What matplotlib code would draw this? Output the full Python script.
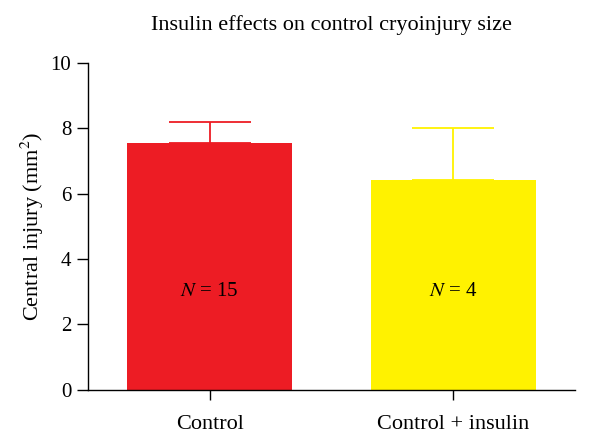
import matplotlib.pyplot as plt
import numpy as np

plt.rcParams['font.family'] = 'Liberation Serif'
plt.rcParams['mathtext.fontset'] = 'stix'

# Data
groups = ['Control', 'Control + insulin']
means = [7.55, 6.42]
errors = [0.65, 1.6]
counts = [15, 4]
colors = ['#ED1C24', '#FFF200']
y_ticks = [0, 2, 4, 6, 8, 10]

fig = plt.figure(figsize=(5.9, 4.41), dpi=100)
ax = fig.add_axes([0.149, 0.116, 0.826, 0.741])

x = np.arange(len(groups))
ax.bar(x, means, width=0.676, color=colors, zorder=2)
for xi, m, e, c in zip(x, means, errors, colors):
    ax.errorbar(xi, m, yerr=[[0], [e]], fmt='none', ecolor=c,
                elinewidth=1.3, capsize=29.5, capthick=1.3, zorder=1)

for xi, n in zip(x, counts):
    ax.text(xi, 3, f'$N$ = {n}', ha='center', va='center', fontsize=15)

ax.set_xlim(-0.5, 1.5)
ax.set_ylim(0, 10)
ax.set_yticks(y_ticks)
ax.set_xticks(x)
ax.set_xticklabels(groups)
ax.tick_params(axis='y', direction='out', length=8, width=1, labelsize=15, pad=4)
ax.tick_params(axis='x', direction='out', length=7, width=1, labelsize=16, pad=11)
ax.spines['top'].set_visible(False)
ax.spines['right'].set_visible(False)
ax.spines['left'].set_linewidth(1)
ax.spines['bottom'].set_linewidth(1)

ax.set_ylabel('Central injury (mm$^2$)', fontsize=16, labelpad=3)
ax.set_title('Insulin effects on control cryoinjury size', fontsize=16, pad=24)

fig.savefig('out.png', dpi=100)
